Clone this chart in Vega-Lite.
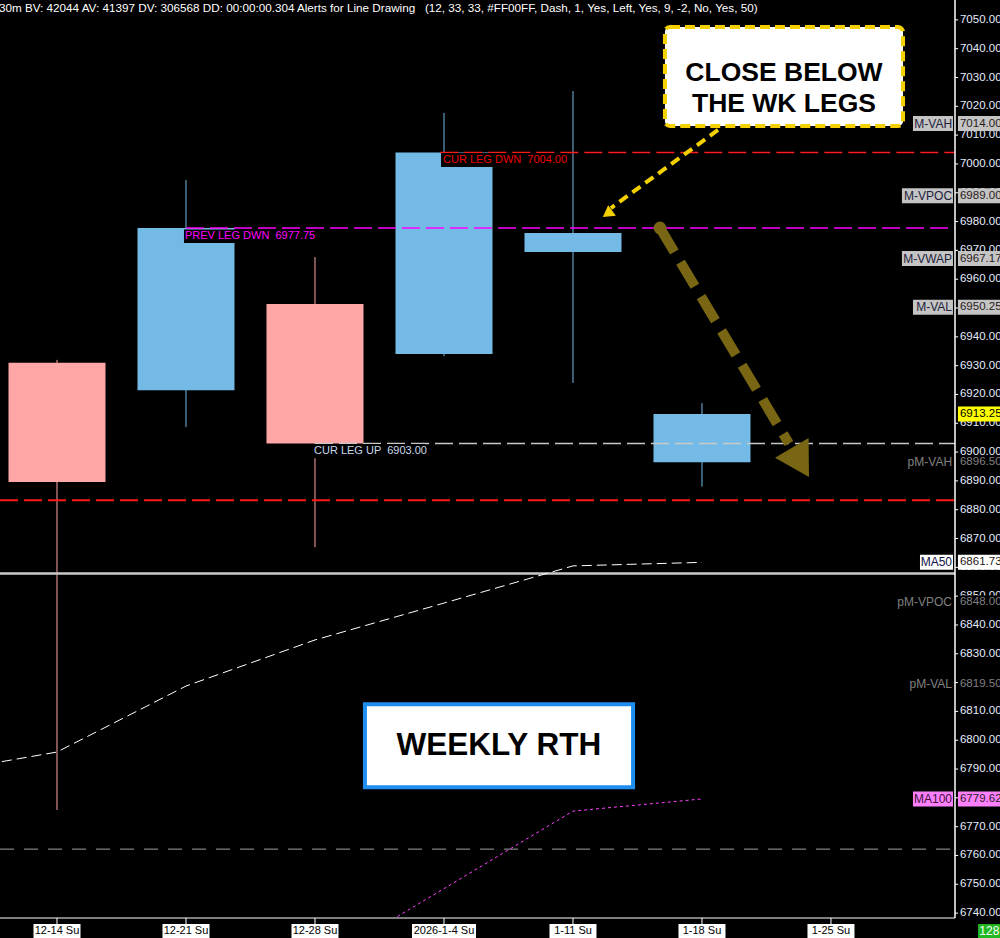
{
  "$schema": "https://vega.github.io/schema/vega-lite/v6.json",
  "width": 955,
  "height": 918,
  "autosize": {"type": "none"},
  "padding": {"left": 0, "top": 0, "right": 45, "bottom": 20},
  "background": "#000000",
  "config": {"view": {"stroke": null}, "font": "Liberation Sans"},
  "datasets": {
    "candles": [
      {"date": "12-14", "day": 0, "open": 6931.0, "high": 6932.0, "low": 6775.8, "close": 6889.6},
      {"date": "12-21", "day": 7, "open": 6921.5, "high": 6994.4, "low": 6908.7, "close": 6977.75},
      {"date": "12-28", "day": 14, "open": 6951.4, "high": 6967.7, "low": 6867.0, "close": 6903.0},
      {"date": "2026-1-4", "day": 21, "open": 6934.0, "high": 7017.7, "low": 6933.3, "close": 7004.0},
      {"date": "1-11", "day": 28, "open": 6969.4, "high": 7025.3, "low": 6924.0, "close": 6976.0},
      {"date": "1-18", "day": 35, "open": 6896.5, "high": 6917.0, "low": 6888.0, "close": 6913.25}
    ],
    "ma50": [
      {"day": -7, "ma": 6788.1},
      {"day": 0, "ma": 6795.9},
      {"day": 7, "ma": 6818.8},
      {"day": 14, "ma": 6834.8},
      {"day": 21, "ma": 6847.6},
      {"day": 28, "ma": 6860.5},
      {"day": 35, "ma": 6861.73}
    ],
    "ma100": [
      {"day": 14, "ma": 6721.7},
      {"day": 21, "ma": 6748.5},
      {"day": 28, "ma": 6775.4},
      {"day": 35, "ma": 6779.62}
    ],
    "legs": [
      {"label": "PREV LEG DWN \u00a06977.75", "price": 6977.75, "day": 7, "kind": "prev"},
      {"label": "CUR LEG DWN \u00a07004.00", "price": 7004.0, "day": 21, "kind": "dwn"},
      {"label": "CUR LEG UP \u00a06903.00", "price": 6903.0, "day": 14, "kind": "up"}
    ],
    "markers": [
      {"name": "M-VAH", "value": 7014.0, "kind": "M"},
      {"name": "M-VPOC", "value": 6989.0, "kind": "M"},
      {"name": "M-VWAP", "value": 6967.17, "kind": "M"},
      {"name": "M-VAL", "value": 6950.25, "kind": "M"},
      {"name": "", "value": 6913.25, "kind": "last"},
      {"name": "pM-VAH", "value": 6896.5, "kind": "pM"},
      {"name": "MA50", "value": 6861.73, "kind": "MA50"},
      {"name": "pM-VPOC", "value": 6848.0, "kind": "pM"},
      {"name": "pM-VAL", "value": 6819.5, "kind": "pM"},
      {"name": "MA100", "value": 6779.62, "kind": "MA100"}
    ],
    "xlabels": [
      {"day": 0, "label": "12-14 Su"},
      {"day": 7, "label": "12-21 Su"},
      {"day": 14, "label": "12-28 Su"},
      {"day": 21, "label": "2026-1-4 Su"},
      {"day": 28, "label": "1-11 Su"},
      {"day": 35, "label": "1-18 Su"},
      {"day": 42, "label": "1-25 Su"}
    ],
    "yticks": [
      {"v": 6740}, {"v": 6750}, {"v": 6760}, {"v": 6770}, {"v": 6780}, {"v": 6790}, {"v": 6800}, {"v": 6810},
      {"v": 6820}, {"v": 6830}, {"v": 6840}, {"v": 6850}, {"v": 6860}, {"v": 6870}, {"v": 6880}, {"v": 6890},
      {"v": 6900}, {"v": 6910}, {"v": 6920}, {"v": 6930}, {"v": 6940}, {"v": 6950}, {"v": 6960}, {"v": 6970},
      {"v": 6980}, {"v": 6990}, {"v": 7000}, {"v": 7010}, {"v": 7020}, {"v": 7030}, {"v": 7040}, {"v": 7050}
    ],
    "one": [{}]
  },
  "layer": [
    {
      "data": {"name": "candles"},
      "mark": {"type": "rule", "strokeWidth": 1},
      "encoding": {
        "x": {"field": "day", "type": "quantitative", "axis": null,
          "scale": {"domain": [-3.093, 48.73], "nice": false, "zero": false, "padding": 0}},
        "y": {"field": "low", "type": "quantitative", "axis": null,
          "scale": {"domain": [6738.3, 7056.9], "nice": false, "zero": false, "padding": 0}},
        "y2": {"field": "high"},
        "color": {"condition": {"test": "datum.close >= datum.open", "value": "#73bbe6"}, "value": "#ffa6a6"}
      }
    },
    {
      "data": {"name": "one"},
      "mark": {"type": "rule", "color": "#ff1a1a", "strokeWidth": 2, "strokeDash": [18, 6]},
      "encoding": {"x": {"datum": -3.093, "axis": null}, "x2": {"datum": 48.73}, "y": {"datum": 6883.3, "axis": null}}
    },
    {
      "data": {"name": "one"},
      "mark": {"type": "rule", "color": "#c8c8c8", "strokeWidth": 2.5},
      "encoding": {"x": {"datum": -3.093, "axis": null}, "x2": {"datum": 48.73}, "y": {"datum": 6857.9, "axis": null}}
    },
    {
      "data": {"name": "one"},
      "mark": {"type": "rule", "color": "#a0a0a0", "strokeWidth": 1, "strokeDash": [14, 10]},
      "encoding": {"x": {"datum": -3.093, "axis": null}, "x2": {"datum": 48.73}, "y": {"datum": 6762.2, "axis": null}}
    },
    {
      "data": {"name": "candles"},
      "mark": {"type": "bar", "size": 97},
      "encoding": {
        "x": {"field": "day", "type": "quantitative", "axis": null},
        "y": {"field": "open", "type": "quantitative", "axis": null},
        "y2": {"field": "close"},
        "color": {"condition": {"test": "datum.close >= datum.open", "value": "#73bbe6"}, "value": "#ffa6a6"}
      }
    },
    {
      "data": {"name": "one"},
      "mark": {"type": "rule", "color": "#ff1a1a", "strokeWidth": 1.5, "strokeDash": [18, 6]},
      "encoding": {"x": {"datum": 20.8, "axis": null}, "x2": {"datum": 48.73}, "y": {"datum": 7004.0, "axis": null}}
    },
    {
      "data": {"name": "one"},
      "mark": {"type": "rule", "color": "#ff00ff", "strokeWidth": 1.5, "strokeDash": [18, 6]},
      "encoding": {"x": {"datum": 7.0, "axis": null}, "x2": {"datum": 48.73}, "y": {"datum": 6977.75, "axis": null}}
    },
    {
      "data": {"name": "one"},
      "mark": {"type": "rule", "color": "#c8c8c8", "strokeWidth": 1.5, "strokeDash": [18, 6]},
      "encoding": {"x": {"datum": 14.0, "axis": null}, "x2": {"datum": 48.73}, "y": {"datum": 6903.0, "axis": null}}
    },
    {
      "data": {"name": "ma50"},
      "mark": {"type": "line", "color": "#ffffff", "strokeWidth": 1, "strokeDash": [10, 5], "clip": true},
      "encoding": {
        "x": {"field": "day", "type": "quantitative", "axis": null},
        "y": {"field": "ma", "type": "quantitative", "axis": null}
      }
    },
    {
      "data": {"name": "ma100"},
      "mark": {"type": "line", "color": "#ff40ff", "strokeWidth": 1, "strokeDash": [3, 3], "clip": true},
      "encoding": {
        "x": {"field": "day", "type": "quantitative", "axis": null},
        "y": {"field": "ma", "type": "quantitative", "axis": null}
      }
    },
    {
      "data": {"name": "one"},
      "mark": {"type": "rect", "color": "#000000"},
      "encoding": {"x": {"datum": 6.89, "axis": null}, "x2": {"datum": 13.89}, "y": {"datum": 6977.24, "axis": null}, "y2": {"datum": 6972.56}}
    },
    {
      "data": {"name": "one"},
      "mark": {"type": "rect", "color": "#000000"},
      "encoding": {"x": {"datum": 20.84, "axis": null}, "x2": {"datum": 27.73}, "y": {"datum": 7003.8, "axis": null}, "y2": {"datum": 6998.9}}
    },
    {
      "data": {"name": "one"},
      "mark": {"type": "rect", "color": "#000000"},
      "encoding": {"x": {"datum": 13.89, "axis": null}, "x2": {"datum": 19.97}, "y": {"datum": 6902.8, "axis": null}, "y2": {"datum": 6897.9}}
    },
    {
      "data": {"name": "legs"},
      "mark": {"type": "text", "align": "left", "baseline": "middle", "dy": 8, "dx": -1, "fontSize": 11},
      "encoding": {
        "x": {"field": "day", "type": "quantitative", "axis": null},
        "y": {"field": "price", "type": "quantitative", "axis": null},
        "text": {"field": "label"},
        "color": {"condition": [
          {"test": "datum.kind == 'prev'", "value": "#ff00ff"},
          {"test": "datum.kind == 'dwn'", "value": "#ee0000"}
        ], "value": "#c8d8ea"}
      }
    },
    {
      "data": {"name": "one"},
      "mark": {"type": "rule", "color": "#786614", "strokeWidth": 10, "strokeDash": [28, 12], "strokeCap": "butt"},
      "encoding": {"x": {"datum": 32.72, "axis": null}, "y": {"datum": 6977.8, "axis": null}, "x2": {"datum": 39.72}, "y2": {"datum": 6902.97}}
    },
    {
      "data": {"name": "one"},
      "mark": {"type": "point", "shape": "circle", "filled": true, "size": 160, "color": "#786614", "opacity": 1},
      "encoding": {"x": {"datum": 32.72, "axis": null}, "y": {"datum": 6977.8, "axis": null}}
    },
    {
      "data": {"name": "one"},
      "mark": {"type": "point", "shape": "triangle-up", "filled": true, "size": 1521, "angle": 149.4, "color": "#786614", "opacity": 1},
      "encoding": {"x": {"datum": 40.34, "axis": null}, "y": {"datum": 6896.4, "axis": null}}
    },
    {
      "data": {"name": "one"},
      "mark": {"type": "rule", "color": "#f5d000", "strokeWidth": 4, "strokeDash": [10, 6], "strokeCap": "butt"},
      "encoding": {"x": {"datum": 35.87, "axis": null}, "y": {"datum": 7011.8, "axis": null}, "x2": {"datum": 30.06}, "y2": {"datum": 6984.7}}
    },
    {
      "data": {"name": "one"},
      "mark": {"type": "point", "shape": "triangle-up", "filled": true, "size": 169, "angle": 234, "color": "#f5d000", "opacity": 1},
      "encoding": {"x": {"datum": 29.87, "axis": null}, "y": {"datum": 6982.7, "axis": null}}
    },
    {
      "data": {"name": "one"},
      "mark": {"type": "rect", "fill": "#ffffff", "stroke": "#f5d000", "strokeWidth": 4, "strokeDash": [10, 5], "cornerRadius": 5},
      "encoding": {"x": {"datum": 32.99, "axis": null}, "x2": {"datum": 45.91}, "y": {"datum": 7047.5, "axis": null}, "y2": {"datum": 7013.2}}
    },
    {
      "data": {"name": "one"},
      "mark": {"type": "text", "text": ["CLOSE BELOW", "THE WK LEGS"], "fontWeight": "bold", "fontSize": 26.5, "lineHeight": 31, "align": "center", "baseline": "middle", "color": "#000000"},
      "encoding": {"x": {"datum": 39.45, "axis": null}, "y": {"datum": 7031.4, "axis": null}}
    },
    {
      "data": {"name": "one"},
      "mark": {"type": "rect", "fill": "#ffffff", "stroke": "#1e8ff0", "strokeWidth": 4},
      "encoding": {"x": {"datum": 16.71, "axis": null}, "x2": {"datum": 31.26}, "y": {"datum": 6812.5, "axis": null}, "y2": {"datum": 6783.7}}
    },
    {
      "data": {"name": "one"},
      "mark": {"type": "text", "text": "WEEKLY RTH", "fontWeight": "bold", "fontSize": 31.5, "align": "center", "baseline": "middle", "color": "#000000"},
      "encoding": {"x": {"datum": 23.98, "axis": null}, "y": {"datum": 6797.98, "axis": null}}
    },
    {
      "data": {"name": "one"},
      "mark": {"type": "rule", "color": "#ffffff", "strokeWidth": 1.5},
      "encoding": {"x": {"datum": 48.73, "axis": null}, "y": {"datum": 6738.3, "axis": null}, "y2": {"datum": 7056.9}}
    },
    {
      "data": {"name": "one"},
      "mark": {"type": "rule", "color": "#ffffff", "strokeWidth": 1},
      "encoding": {"x": {"datum": -3.093, "axis": null}, "x2": {"datum": 48.73}, "y": {"datum": 6738.3, "axis": null}}
    },
    {
      "data": {"name": "yticks"},
      "mark": {"type": "rule", "color": "#ffffff", "strokeWidth": 1},
      "encoding": {"x": {"datum": 48.73, "axis": null}, "x2": {"datum": 48.9}, "y": {"field": "v", "type": "quantitative", "axis": null}}
    },
    {
      "data": {"name": "yticks"},
      "mark": {"type": "text", "align": "left", "baseline": "middle", "fontSize": 11.5, "color": "#e4ecff"},
      "encoding": {"x": {"datum": 49.0, "axis": null}, "y": {"field": "v", "type": "quantitative", "axis": null}, "text": {"field": "v", "format": ".2f"}}
    },
    {
      "data": {"name": "markers"},
      "transform": [{"filter": "datum.kind != 'pM'"}],
      "mark": {"type": "bar", "orient": "horizontal", "size": 15},
      "encoding": {
        "x": {"datum": 48.89, "axis": null}, "x2": {"datum": 51.2},
        "y": {"field": "value", "type": "quantitative", "axis": null},
        "color": {"condition": [
          {"test": "datum.kind == 'last'", "value": "#ffff00"},
          {"test": "datum.kind == 'MA50'", "value": "#ffffff"},
          {"test": "datum.kind == 'MA100'", "value": "#ff80ff"}
        ], "value": "#c4c4c4"}
      }
    },
    {
      "data": {"name": "markers"},
      "transform": [{"filter": "datum.kind == 'pM'"}],
      "mark": {"type": "bar", "orient": "horizontal", "size": 13, "color": "#000000"},
      "encoding": {"x": {"datum": 48.89, "axis": null}, "x2": {"datum": 51.2}, "y": {"field": "value", "type": "quantitative", "axis": null}}
    },
    {
      "data": {"name": "markers"},
      "transform": [{"filter": "datum.name == 'M-VPOC' || datum.name == 'M-VWAP'"}],
      "mark": {"type": "bar", "orient": "horizontal", "size": 15, "color": "#c4c4c4"},
      "encoding": {"x": {"datum": 45.85, "axis": null}, "x2": {"datum": 48.62}, "y": {"field": "value", "type": "quantitative", "axis": null}}
    },
    {
      "data": {"name": "markers"},
      "transform": [{"filter": "datum.name == 'M-VAH' || datum.name == 'M-VAL' || datum.name == 'MA100'"}],
      "mark": {"type": "bar", "orient": "horizontal", "size": 15},
      "encoding": {"x": {"datum": 46.45, "axis": null}, "x2": {"datum": 48.62}, "y": {"field": "value", "type": "quantitative", "axis": null},
        "color": {"condition": {"test": "datum.kind == 'MA100'", "value": "#ff80ff"}, "value": "#c4c4c4"}}
    },
    {
      "data": {"name": "markers"},
      "transform": [{"filter": "datum.name == 'MA50'"}],
      "mark": {"type": "bar", "orient": "horizontal", "size": 15, "color": "#ffffff"},
      "encoding": {"x": {"datum": 46.83, "axis": null}, "x2": {"datum": 48.62}, "y": {"field": "value", "type": "quantitative", "axis": null}}
    },
    {
      "data": {"name": "markers"},
      "mark": {"type": "text", "align": "right", "baseline": "middle", "fontSize": 12},
      "encoding": {
        "x": {"datum": 48.57, "axis": null},
        "y": {"field": "value", "type": "quantitative", "axis": null},
        "text": {"field": "name"},
        "color": {"condition": [
          {"test": "datum.kind == 'pM'", "value": "#808080"},
          {"test": "datum.kind == 'MA50'", "value": "#101048"},
          {"test": "datum.kind == 'MA100'", "value": "#40103a"}
        ], "value": "#22223a"}
      }
    },
    {
      "data": {"name": "markers"},
      "mark": {"type": "text", "align": "left", "baseline": "middle", "fontSize": 11.5},
      "encoding": {
        "x": {"datum": 49.0, "axis": null},
        "y": {"field": "value", "type": "quantitative", "axis": null},
        "text": {"field": "value", "format": ".2f"},
        "color": {"condition": [
          {"test": "datum.kind == 'pM'", "value": "#808080"},
          {"test": "datum.kind == 'last'", "value": "#000000"}
        ], "value": "#2a2020"}
      }
    },
    {
      "data": {"name": "xlabels"},
      "mark": {"type": "rule", "color": "#ffffff", "strokeWidth": 1},
      "encoding": {"x": {"field": "day", "type": "quantitative", "axis": null}, "y": {"datum": 6738.3, "axis": null}, "y2": {"datum": 6736.2}}
    },
    {
      "data": {"name": "xlabels"},
      "mark": {"type": "bar", "color": "#ffffff"},
      "encoding": {
        "x": {"field": "day", "type": "quantitative", "axis": null},
        "y": {"datum": 6736.2, "axis": null}, "y2": {"datum": 6731.3},
        "size": {"condition": {"test": "datum.day == 21", "value": 64}, "value": 47}
      }
    },
    {
      "data": {"name": "xlabels"},
      "mark": {"type": "text", "align": "center", "baseline": "middle", "fontSize": 11, "color": "#000000"},
      "encoding": {
        "x": {"field": "day", "type": "quantitative", "axis": null},
        "y": {"datum": 6733.8, "axis": null},
        "text": {"field": "label"}
      }
    },
    {
      "data": {"name": "one"},
      "mark": {"type": "rect", "color": "#22b822"},
      "encoding": {"x": {"datum": 49.98, "axis": null}, "x2": {"datum": 51.2}, "y": {"datum": 6736.2, "axis": null}, "y2": {"datum": 6731.3}}
    },
    {
      "data": {"name": "one"},
      "mark": {"type": "text", "text": "128", "align": "left", "baseline": "middle", "fontSize": 12, "color": "#ffffff"},
      "encoding": {"x": {"datum": 50.05, "axis": null}, "y": {"datum": 6733.8, "axis": null}}
    },
    {
      "data": {"name": "one"},
      "mark": {"type": "text", "text": "30m BV: 42044 AV: 41397 DV: 306568 DD: 00:00:00.304 Alerts for Line Drawing \u00a0 (12, 33, 33, #FF00FF, Dash, 1, Yes, Left, Yes, 9, -2, No, Yes, 50)", "align": "left", "baseline": "middle", "fontSize": 11.7, "color": "#ffffff"},
      "encoding": {"x": {"datum": -3.15, "axis": null}, "y": {"datum": 7054.1, "axis": null}}
    }
  ]
}
